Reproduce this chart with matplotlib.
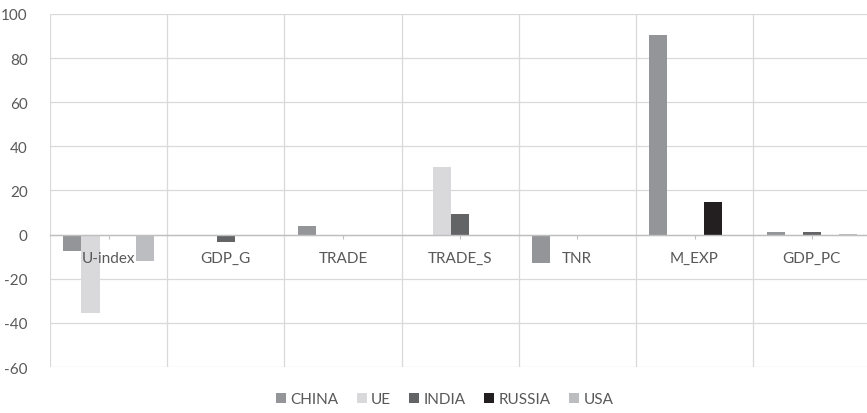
import matplotlib.pyplot as plt
import numpy as np

categories = ["U-index", "GDP_G", "TRADE", "TRADE_S", "TNR", "M_EXP", "GDP_PC"]
series_names = ["CHINA", "UE", "INDIA", "RUSSIA", "USA"]
china = [-7.3, 0, 4.0, 0, -12.7, 90.5, 1.2]
ue = [-35.5, 0, 0, 30.5, 0, 0, 0]
india = [0, -3.5, 0, 9.5, 0, 0, 1.3]
russia = [0, 0, 0, 0, 0, 15.0, 0]
usa = [-12.0, 0, 0, 0, 0, 0, 0.3]
y_ticks = [-60, -40, -20, 0, 20, 40, 60, 80, 100]

colors = ["#939598", "#d9d9db", "#636466", "#231f20", "#bcbdc0"]
text_color = "#595959"
grid_color = "#d9d9d9"

plt.rcParams["font.family"] = ["Lato", "DejaVu Sans"]
plt.rcParams["axes.unicode_minus"] = False

fig = plt.figure(figsize=(8.67, 4.14), dpi=100)
ax = fig.add_axes([0.0576, 0.1111, 0.9462, 0.8527])

x = np.arange(len(categories))
width = 0.154
series = [china, ue, india, russia, usa]
for i, (name, vals, col) in enumerate(zip(series_names, series, colors)):
    ax.bar(x + (i - 2) * width, vals, width, color=col, label=name, zorder=2)

ax.set_xlim(-0.5, len(categories) - 0.5)
ax.set_ylim(-60, 100)
ax.set_yticks(y_ticks)
ax.set_xticks(x)
ax.set_xticklabels([])
ax.set_xticks(np.arange(len(categories) + 1) - 0.5, minor=True)

ax.grid(axis="y", which="major", color=grid_color, linewidth=0.9, zorder=0)
ax.grid(axis="x", which="minor", color=grid_color, linewidth=0.9, zorder=0)
ax.set_axisbelow(True)

for side in ["top", "right", "left"]:
    ax.spines[side].set_visible(False)
ax.spines["bottom"].set_position(("data", 0))
ax.spines["bottom"].set_color("#bfbfbf")
ax.spines["bottom"].set_linewidth(1.0)

ax.tick_params(axis="x", which="major", length=3, color="#bfbfbf")
ax.tick_params(axis="x", which="minor", length=0)
ax.tick_params(axis="y", length=0, labelsize=11, labelcolor=text_color, pad=16)

# category names sit just below the zero line, over the bars
for xi, name in zip(x, categories):
    ax.annotate(name, (xi, 0), xytext=(0, -23), textcoords="offset pixels",
                ha="center", va="center", fontsize=11, color=text_color, zorder=5)

leg = fig.legend(loc="lower center", bbox_to_anchor=(0.513, -0.017), ncol=5,
                 frameon=False, fontsize=11, handlelength=0.65, handleheight=0.65,
                 handletextpad=0.3, columnspacing=1.2)
for t in leg.get_texts():
    t.set_color(text_color)

fig.savefig("out.png", dpi=100)
